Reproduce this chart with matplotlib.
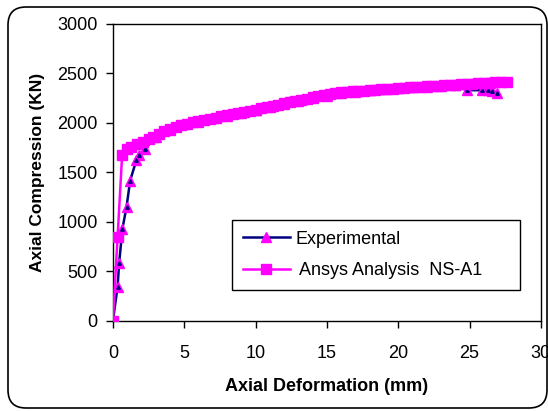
import matplotlib
matplotlib.use('Agg')
import matplotlib.pyplot as plt
from matplotlib.patches import FancyBboxPatch
from matplotlib.transforms import IdentityTransform

plt.rcParams['font.family'] = ['Liberation Sans', 'DejaVu Sans']

# Ansys Analysis NS-A1
ansys_def = [0, 0.33, 0.65, 1.0, 1.3, 1.7, 2.1, 2.5, 2.8, 3.2,
             3.6, 4.0, 4.4, 4.8, 5.2, 5.6, 6.0, 6.4, 6.8, 7.2,
             7.6, 8.0, 8.4, 8.8, 9.2, 9.6, 10.0, 10.4, 10.8, 11.2,
             11.6, 12.0, 12.4, 12.8, 13.2, 13.6, 14.0, 14.4, 14.8, 15.2,
             15.6, 16.0, 16.4, 16.8, 17.2, 17.6, 18.0, 18.4, 18.8, 19.2,
             19.6, 20.0, 20.4, 20.8, 21.2, 21.6, 22.0, 22.4, 22.8, 23.2,
             23.6, 24.0, 24.4, 24.8, 25.2, 25.6, 26.0, 26.4, 26.8, 27.2,
             27.6]
ansys_force = [0, 850, 1680, 1740, 1757, 1785, 1811, 1835, 1855, 1885,
               1915, 1940, 1960, 1978, 1992, 2005, 2018, 2030, 2042, 2054,
               2065, 2077, 2090, 2100, 2112, 2124, 2135, 2147, 2160, 2172,
               2185, 2198, 2210, 2222, 2233, 2245, 2257, 2268, 2280, 2290,
               2300, 2308, 2314, 2318, 2322, 2326, 2330, 2334, 2338, 2342,
               2346, 2350, 2354, 2358, 2362, 2365, 2368, 2371, 2374, 2378,
               2382, 2386, 2390, 2394, 2397, 2400, 2403, 2406, 2409, 2412,
               2415]

# Experimental
exp_def = [0, 0.33, 0.44, 0.67, 0.96, 1.21, 1.65, 1.86, 2.26, 3.0,
           4.0, 5.0, 6.0, 7.0, 8.0, 9.0, 10.0, 11.0, 12.0, 13.0,
           14.0, 15.0, 16.0, 17.0, 18.0, 19.0, 20.0, 21.0, 22.0, 23.0,
           24.0, 24.8, 25.9, 26.3, 26.6, 26.95]
exp_force = [0, 347, 589, 932, 1155, 1417, 1626, 1674, 1740, 1860,
             1930, 1985, 2012, 2045, 2072, 2100, 2130, 2160, 2190, 2220,
             2250, 2275, 2300, 2315, 2328, 2338, 2348, 2358, 2366, 2374,
             2380, 2330, 2330, 2330, 2325, 2305]

fig = plt.figure(figsize=(5.48, 4.11), dpi=100)
ax = fig.add_axes([0.206, 0.219, 0.781, 0.723])

ax.plot(exp_def, exp_force, color='#000080', lw=1.8, marker='^', ms=7,
        mfc='magenta', mec='magenta', zorder=2, label='Experimental')
ax.plot(exp_def, exp_force, ls='none', marker='^', ms=2.5, color='#000080', zorder=2.1)
ax.plot(ansys_def, ansys_force, color='magenta', lw=1.8, marker='s', ms=7,
        mfc='magenta', mec='magenta', zorder=3, label=' Ansys Analysis  NS-A1')

ax.set_xlim(0, 30)
ax.set_ylim(0, 3000)
ax.set_xticks(range(0, 31, 5))
ax.set_yticks(range(0, 3001, 500))
ax.tick_params(labelsize=13, length=5, width=1, direction='out')
ax.tick_params(axis='x', pad=12)
ax.tick_params(axis='y', pad=6)
for s in ax.spines.values():
    s.set_linewidth(1)
ax.set_xlabel('Axial Deformation (mm)', fontsize=13, fontweight='bold', labelpad=12)
ax.set_ylabel('Axial Compression (KN)', fontsize=12.5, fontweight='bold', labelpad=9)

leg = ax.legend(loc='lower left', bbox_to_anchor=(0.278, 0.104, 0.673, 0.243),
                mode='expand', borderaxespad=0,
                fontsize=13, fancybox=False, framealpha=1, edgecolor='black',
                handlelength=2.6, handletextpad=0.3, labelspacing=0.8, borderpad=0.6)
leg.get_frame().set_linewidth(1)

border = FancyBboxPatch((8, 3), 539, 401, boxstyle='round,pad=0,rounding_size=18',
                        transform=IdentityTransform(), fill=False, ec='black', lw=1.2)
fig.patches.append(border)

fig.savefig('out.png', dpi=100)
